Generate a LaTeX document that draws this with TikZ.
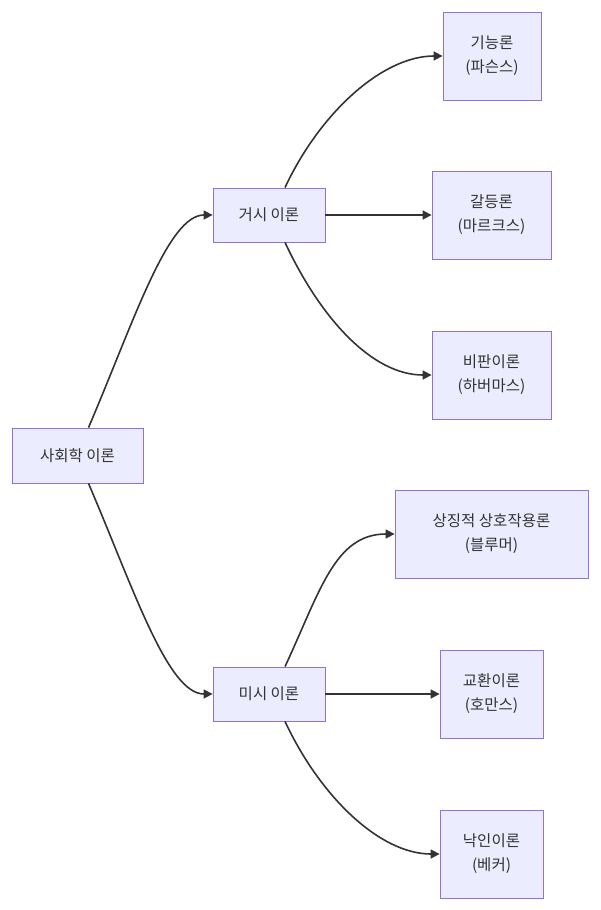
\documentclass[tikz,border=0pt]{standalone}
\usepackage{fontspec}
\setmainfont{Noto Sans CJK KR}
\usetikzlibrary{arrows.meta}
\begin{document}
\begin{tikzpicture}[x=1pt,y=-1pt,
  box/.style={draw=violet!60!blue!70!white,draw=mborder,fill=mfill,line width=0.8pt,text=mtext,align=center,font=\fontsize{15.5}{24}\selectfont,inner sep=0pt},
  arr/.style={draw=mtext,line width=1.6pt,-{Triangle[length=9pt,width=9pt]}}]
\definecolor{mfill}{HTML}{ECECFF}
\definecolor{mborder}{HTML}{9370DB}
\definecolor{mtext}{HTML}{333333}
\useasboundingbox (0,0) rectangle (600,910);
\node[box,minimum width=131pt,minimum height=55pt] (s) at (77.5,455.5) {사회학 이론};
\node[box,minimum width=112pt,minimum height=54pt] (ma) at (269,215) {거시 이론};
\node[box,minimum width=112pt,minimum height=54pt] (mi) at (269,694) {미시 이론};
\node[box,minimum width=98pt,minimum height=88pt] (f) at (492,56) {기능론\\(파슨스)};
\node[box,minimum width=119pt,minimum height=88pt] (c) at (491.5,215) {갈등론\\(마르크스)};
\node[box,minimum width=119pt,minimum height=88pt] (k) at (491.5,375) {비판이론\\(하버마스)};
\node[box,minimum width=193pt,minimum height=88pt] (y) at (491.5,534) {상징적 상호작용론\\(블루머)};
\node[box,minimum width=103pt,minimum height=88pt] (e) at (491.5,694) {교환이론\\(호만스)};
\node[box,minimum width=103pt,minimum height=88pt] (l) at (491.5,854) {낙인이론\\(베커)};
\draw[arr] ([xshift=11pt]s.north) .. controls +(45,-105) and +(-45,0) .. (ma.west);
\draw[arr] ([xshift=11pt]s.south) .. controls +(45,105) and +(-45,0) .. (mi.west);
\draw[arr] ([xshift=16pt]ma.north) .. controls +(35,-75) and +(-60,0) .. (f.west);
\draw[arr] (ma.east) -- (c.west);
\draw[arr] ([xshift=16pt]ma.south) .. controls +(35,75) and +(-60,0) .. (k.west);
\draw[arr] ([xshift=16pt]mi.north) .. controls +(35,-75) and +(-60,0) .. (y.west);
\draw[arr] (mi.east) -- (e.west);
\draw[arr] ([xshift=16pt]mi.south) .. controls +(35,75) and +(-60,0) .. (l.west);
\end{tikzpicture}
\end{document}
